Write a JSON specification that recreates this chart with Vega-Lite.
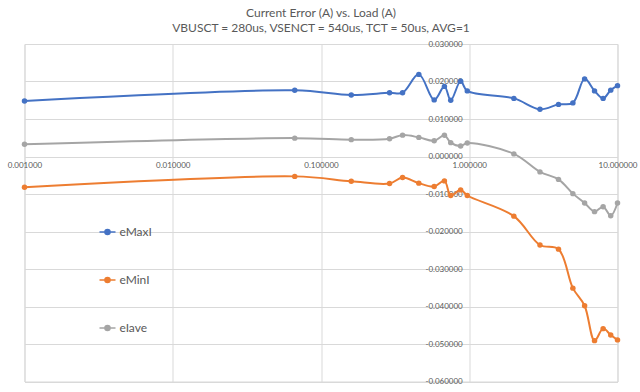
{
  "$schema": "https://vega.github.io/schema/vega-lite/v6.json",
  "autosize": "none",
  "width": 593,
  "height": 337.5,
  "padding": {"left": 24.5, "top": 44, "right": 22.5, "bottom": 10.5},
  "background": "white",
  "config": {
    "font": "Lato",
    "view": {"stroke": "#D9D9D9", "strokeWidth": 1}
  },
  "title": {
    "text": ["Current Error (A) vs. Load (A)", "VBUSCT = 280us, VSENCT = 540us, TCT = 50us, AVG=1"],
    "fontSize": 12,
    "fontWeight": "normal",
    "color": "#595959",
    "font": "Lato",
    "lineHeight": 15,
    "offset": 5,
    "anchor": "middle"
  },
  "datasets": {
    "pts": [
      {"load": 0.001, "series": "eMaxI", "err": 0.0148},
      {"load": 0.0665, "series": "eMaxI", "err": 0.01765},
      {"load": 0.16, "series": "eMaxI", "err": 0.0164},
      {"load": 0.29, "series": "eMaxI", "err": 0.0170},
      {"load": 0.355, "series": "eMaxI", "err": 0.0170},
      {"load": 0.457, "series": "eMaxI", "err": 0.0219},
      {"load": 0.58, "series": "eMaxI", "err": 0.0151},
      {"load": 0.68, "series": "eMaxI", "err": 0.0187},
      {"load": 0.75, "series": "eMaxI", "err": 0.0150},
      {"load": 0.875, "series": "eMaxI", "err": 0.0201},
      {"load": 0.97, "series": "eMaxI", "err": 0.0175},
      {"load": 2, "series": "eMaxI", "err": 0.0155},
      {"load": 3, "series": "eMaxI", "err": 0.0126},
      {"load": 4, "series": "eMaxI", "err": 0.0139},
      {"load": 5, "series": "eMaxI", "err": 0.0143},
      {"load": 6, "series": "eMaxI", "err": 0.0207},
      {"load": 7, "series": "eMaxI", "err": 0.0175},
      {"load": 8, "series": "eMaxI", "err": 0.0155},
      {"load": 9, "series": "eMaxI", "err": 0.0177},
      {"load": 10, "series": "eMaxI", "err": 0.0189},
      {"load": 0.001, "series": "eMinI", "err": -0.0082},
      {"load": 0.0665, "series": "eMinI", "err": -0.0053},
      {"load": 0.16, "series": "eMinI", "err": -0.0066},
      {"load": 0.29, "series": "eMinI", "err": -0.0072},
      {"load": 0.355, "series": "eMinI", "err": -0.0056},
      {"load": 0.457, "series": "eMinI", "err": -0.0071},
      {"load": 0.58, "series": "eMinI", "err": -0.0080},
      {"load": 0.68, "series": "eMinI", "err": -0.0065},
      {"load": 0.75, "series": "eMinI", "err": -0.0104},
      {"load": 0.875, "series": "eMinI", "err": -0.0089},
      {"load": 0.97, "series": "eMinI", "err": -0.0104},
      {"load": 2, "series": "eMinI", "err": -0.0159},
      {"load": 3, "series": "eMinI", "err": -0.0236},
      {"load": 4, "series": "eMinI", "err": -0.0247},
      {"load": 5, "series": "eMinI", "err": -0.0351},
      {"load": 6, "series": "eMinI", "err": -0.0398},
      {"load": 7, "series": "eMinI", "err": -0.0491},
      {"load": 8, "series": "eMinI", "err": -0.0459},
      {"load": 9, "series": "eMinI", "err": -0.0476},
      {"load": 10, "series": "eMinI", "err": -0.0489},
      {"load": 0.001, "series": "eIave", "err": 0.00325},
      {"load": 0.0665, "series": "eIave", "err": 0.0049},
      {"load": 0.16, "series": "eIave", "err": 0.0045},
      {"load": 0.29, "series": "eIave", "err": 0.00475},
      {"load": 0.355, "series": "eIave", "err": 0.0057},
      {"load": 0.457, "series": "eIave", "err": 0.0051},
      {"load": 0.58, "series": "eIave", "err": 0.0042},
      {"load": 0.68, "series": "eIave", "err": 0.00565},
      {"load": 0.75, "series": "eIave", "err": 0.0037},
      {"load": 0.875, "series": "eIave", "err": 0.0028},
      {"load": 0.97, "series": "eIave", "err": 0.0036},
      {"load": 2, "series": "eIave", "err": 0.0007},
      {"load": 3, "series": "eIave", "err": -0.0041},
      {"load": 4, "series": "eIave", "err": -0.0061},
      {"load": 5, "series": "eIave", "err": -0.0099},
      {"load": 6, "series": "eIave", "err": -0.0124},
      {"load": 7, "series": "eIave", "err": -0.0147},
      {"load": 8, "series": "eIave", "err": -0.0134},
      {"load": 9, "series": "eIave", "err": -0.0158},
      {"load": 10, "series": "eIave", "err": -0.0124}
    ]
  },
  "data": {"name": "pts"},
  "encoding": {
    "x": {
      "field": "load",
      "type": "quantitative",
      "scale": {"type": "log", "domain": [0.001, 10], "nice": false},
      "axis": {
        "title": null,
        "orient": "bottom",
        "offset": -225,
        "values": [0.001, 0.01, 0.1, 1, 10],
        "format": ".6f",
        "domain": false,
        "ticks": false,
        "labelPadding": 5,
        "labelFontSize": 8,
        "labelColor": "#595959",
        "labelFont": "Lato",
        "labelFlush": false,
        "labelOverlap": false,
        "grid": true,
        "gridColor": "#D9D9D9",
        "gridWidth": 1
      }
    },
    "y": {
      "field": "err",
      "type": "quantitative",
      "scale": {"domain": [-0.06, 0.03], "nice": false, "zero": false},
      "axis": {
        "title": null,
        "orient": "left",
        "offset": -444.75,
        "values": [-0.06, -0.05, -0.04, -0.03, -0.02, -0.01, 0, 0.01, 0.02, 0.03],
        "labelExpr": "replace(format(datum.value, '.6f'), '\u2212', '-')",
        "domain": false,
        "ticks": false,
        "labelPadding": 7,
        "labelFontSize": 8,
        "labelColor": "#595959",
        "labelFont": "Lato",
        "labelOverlap": false,
        "labelFlush": false,
        "grid": true,
        "gridColor": "#D9D9D9",
        "gridWidth": 1
      }
    },
    "color": {
      "field": "series",
      "type": "nominal",
      "scale": {"domain": ["eMaxI", "eMinI", "eIave"], "range": ["#4472C4", "#ED7D31", "#A5A5A5"]},
      "legend": {
        "title": null,
        "orient": "none",
        "legendX": 74,
        "legendY": 179,
        "symbolType": "M-1,0H1M0.32,0A0.32,0.32,0,1,1,-0.32,0A0.32,0.32,0,1,1,0.32,0",
        "symbolSize": 256,
        "symbolStrokeWidth": 1.5,
        "labelFontSize": 12,
        "labelColor": "#595959",
        "labelFont": "Lato",
        "labelOffset": 3,
        "rowPadding": 33,
        "encode": {
          "symbols": {"update": {"fill": {"scale": "color", "field": "value"}, "stroke": {"scale": "color", "field": "value"}, "opacity": {"value": 1}}}
        }
      }
    }
  },
  "layer": [
    {"mark": {"type": "line", "interpolate": "catmull-rom", "strokeWidth": 2, "clip": false}},
    {"mark": {"type": "point", "filled": true, "size": 30, "opacity": 1, "shape": "circle"}}
  ]
}
